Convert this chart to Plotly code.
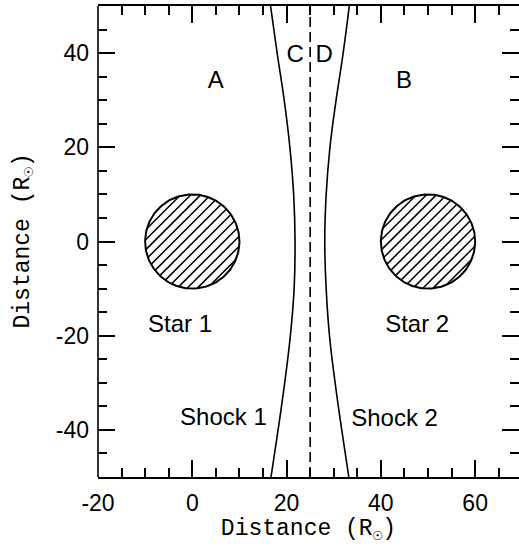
import numpy as np
import plotly.graph_objects as go

# Stars: centres and radii in solar radii
star_x = [0, 50]
star_y = [0, 0]
star_r = [10, 10]

# Shock fronts sampled along the y direction
shock_y = [50, 40, 30, 20, 10, 0, -10, -20, -30, -40, -50]
shock1_x = [16.6, 18.0, 19.5, 20.7, 21.5, 21.8, 21.6, 20.8, 19.6, 18.2, 16.7]
shock2_x = [33.3, 32.0, 30.5, 29.2, 28.4, 28.1, 28.4, 29.1, 30.3, 31.7, 33.2]

# Contact discontinuity (dashed line)
contact_x = [25, 25]
contact_y = [-50, 50]

x_ticks = [-20, 0, 20, 40, 60]
x_tick_text = ["-20", "0", "20", "40", "60"]
y_ticks = [-40, -20, 0, 20, 40]
y_tick_text = ["-40", "-20", "0", "20", "40"]

region_labels = ["A", "B", "C", "D", "Star 1", "Star 2", "Shock 1", "Shock 2"]
label_x = [5.0, 44.9, 21.8, 28.0, -2.6, 47.7, 6.6, 42.9]
label_y = [33.9, 33.9, 39.3, 39.3, -18.0, -18.0, -37.7, -37.8]

HATCH_STEP = 1.5      # spacing between hatch lines, data units
HATCH_ANGLE = 45.0    # degrees from the x axis

SANS = "Liberation Sans, Arial, sans-serif"
MONO = "Liberation Mono, Courier New, monospace"
TITLE = "Distance (R<sub>☉</sub>)"

fig = go.Figure()


def hatch_segments(cx, cy, r, step, angle_deg):
    """Parallel chords of a circle, separated by None for a single trace."""
    a = np.deg2rad(angle_deg)
    u = np.array([np.cos(a), np.sin(a)])
    n = np.array([-np.sin(a), np.cos(a)])
    xs, ys = [], []
    for d in np.arange(-r + step / 2, r, step):
        half = np.sqrt(max(r * r - d * d, 0.0))
        p0 = np.array([cx, cy]) + n * d - u * half
        p1 = np.array([cx, cy]) + n * d + u * half
        xs += [p0[0], p1[0], None]
        ys += [p0[1], p1[1], None]
    return xs, ys


theta = np.linspace(0, 2 * np.pi, 181)
for cx, cy, r in zip(star_x, star_y, star_r):
    hx, hy = hatch_segments(cx, cy, r, HATCH_STEP, HATCH_ANGLE)
    fig.add_trace(go.Scatter(
        x=hx, y=hy, mode="lines", line=dict(color="black", width=1.5),
        hoverinfo="skip", showlegend=False))
    fig.add_trace(go.Scatter(
        x=cx + r * np.cos(theta), y=cy + r * np.sin(theta),
        mode="lines", line=dict(color="black", width=2),
        hoverinfo="skip", showlegend=False))

# Shock fronts
for sx in (shock1_x, shock2_x):
    fig.add_trace(go.Scatter(
        x=sx, y=shock_y, mode="lines",
        line=dict(color="black", width=1.6, shape="spline", smoothing=1.3),
        showlegend=False, hoverinfo="skip"))

# Contact surface
fig.add_trace(go.Scatter(
    x=contact_x, y=contact_y, mode="lines",
    line=dict(color="black", width=1.6, dash="10px,5px"),
    showlegend=False, hoverinfo="skip"))

# Region labels
fig.add_trace(go.Scatter(
    x=label_x, y=label_y, mode="text", text=region_labels,
    textposition="middle center",
    textfont=dict(family=SANS, size=24, color="black"),
    showlegend=False, hoverinfo="skip"))

axis_common = dict(
    ticks="inside", ticklen=17, tickwidth=1.6, tickcolor="black",
    mirror="ticks", showgrid=False, zeroline=False,
    minor=dict(ticks="inside", ticklen=9, tickwidth=1.6, tickcolor="black",
               dtick=5, showgrid=False),
    tickfont=dict(family=SANS, size=23, color="black"),
)

fig.update_layout(
    width=519, height=548,
    margin=dict(l=98, r=0, t=6, b=71),
    paper_bgcolor="white", plot_bgcolor="white",
    xaxis=dict(
        range=[-20, 69.3], tickmode="array", tickvals=x_ticks,
        ticktext=x_tick_text, showline=True, linecolor="black",
        linewidth=1.6, ticklabelstandoff=5,
        title=dict(text=TITLE,
                   font=dict(family=MONO, size=23, color="black"),
                   standoff=1),
        **axis_common),
    yaxis=dict(
        range=[-50, 50], tickmode="array", tickvals=y_ticks,
        ticktext=y_tick_text, showline=False, ticklabelstandoff=8,
        **axis_common),
    shapes=[dict(type="line", xref="paper", yref="paper",
                 x0=0, x1=0, y0=0, y1=1,
                 line=dict(color="black", width=1.6))],
    annotations=[dict(text=TITLE, xref="paper", yref="paper",
                      x=0, y=0.5, xshift=-74, textangle=-90,
                      xanchor="center", yanchor="middle", showarrow=False,
                      font=dict(family=MONO, size=23, color="black"))],
)

fig.write_html("out.html")
